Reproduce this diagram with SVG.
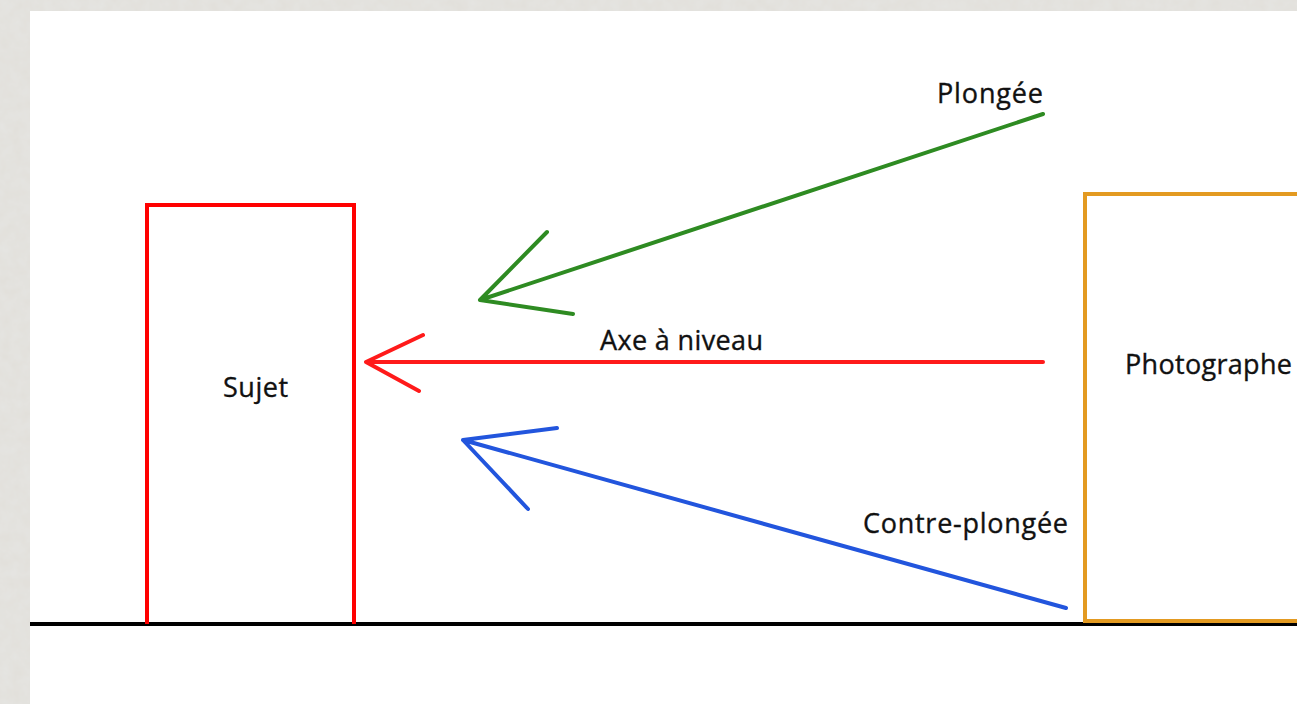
<svg xmlns="http://www.w3.org/2000/svg" width="1297" height="704" viewBox="0 0 1297 704">
<style>
.lbl{font-family:"Open Sans","Noto Sans","DejaVu Sans",sans-serif;font-size:27px;fill:#111;stroke:#111;stroke-width:0.35;}
.ln{fill:none;stroke-width:4;stroke-linecap:round;stroke-linejoin:round;}
</style>
<defs>
<filter id="stone" x="0" y="0" width="100%" height="100%">
<feTurbulence type="fractalNoise" baseFrequency="0.09" numOctaves="3" seed="4" result="n"/>
<feColorMatrix in="n" type="matrix" values="0 0 0 0 0.78  0 0 0 0 0.775  0 0 0 0 0.75  0 0 0 -1.6 1.3"/>
</filter>
</defs>
<rect x="0" y="0" width="1297" height="704" fill="#e2e0db"/>
<rect x="0" y="0" width="1297" height="704" filter="url(#stone)"/>
<rect x="30" y="11" width="1267" height="693" fill="#ffffff"/>
<line x1="30" y1="624" x2="1297" y2="624" stroke="#000" stroke-width="4"/>
<g id="sujet">
<path d="M147,624 V205 H354 V624" fill="none" stroke="#ff0000" stroke-width="4"/>
<text class="lbl" x="223" y="397" textLength="65">Sujet</text>
</g>
<g id="photographe">
<path d="M1299,194 H1085 V621 H1299" fill="none" stroke="#e39a21" stroke-width="4"/>
<text class="lbl" x="1125" y="374" textLength="167">Photographe</text>
</g>
<g id="connectors">
<g id="plongee">
<path class="ln" stroke="#2e8b22" d="M1043,114 L480,300 M547,232 L480,300 L573,314"/>
<text class="lbl" x="937" y="103" textLength="106">Plongée</text>
</g>
<g id="axe">
<path class="ln" stroke="#ff1a1a" d="M1043,362 L366,362 M423,335 L366,362 L419,391"/>
<text class="lbl" x="600" y="350" textLength="163">Axe à niveau</text>
</g>
<g id="contre">
<path class="ln" stroke="#2255dd" d="M1066,608 L463,440 M557,428 L463,440 L528,509"/>
<text class="lbl" x="863" y="533" textLength="205">Contre-plongée</text>
</g>
</g>
</svg>
